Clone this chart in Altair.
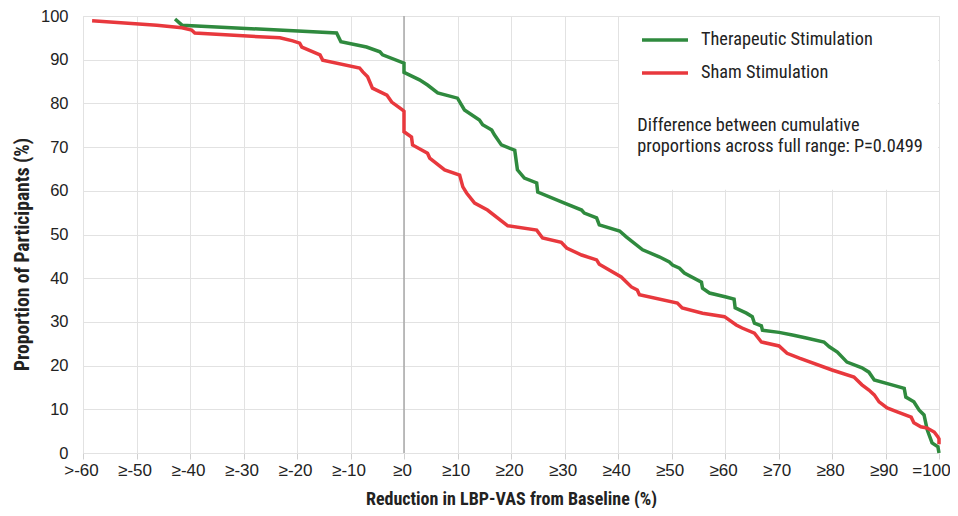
import altair as alt
import pandas as pd

# ---- data ----
therapeutic_x = [-42.8, -41.5, -12.6, -11.8, -7.0, -4.5, -4.0, 0.0, 0.0, 2.9, 4.4, 6.3, 10.0, 11.3, 14.1, 14.7,
                 16.4, 16.9, 18.2, 20.7, 21.2, 22.5, 24.8, 25.0, 30.0, 33.2, 33.7, 36.0, 36.5, 40.3, 41.6,
                 44.6, 47.7, 49.6, 50.2, 51.5, 52.4, 55.6, 55.8, 57.1, 60.2, 61.7, 61.9, 64.0, 65.1, 65.5,
                 66.8, 67.0, 70.1, 72.6, 75.2, 78.5, 79.5, 81.0, 82.8, 85.6, 86.9, 87.9, 91.2, 93.5, 93.8,
                 95.3, 96.3, 97.2, 97.8, 98.7, 99.8, 100.0]
therapeutic_y = [99.3, 97.9, 96.1, 94.1, 92.9, 91.8, 91.1, 89.2, 87.1, 85.4, 84.2, 82.4, 81.2, 78.5, 76.2, 75.1,
                 73.9, 72.8, 70.5, 69.3, 64.8, 62.9, 61.8, 59.7, 57.2, 55.6, 54.9, 53.8, 52.2, 50.8, 49.4,
                 46.5, 44.9, 43.7, 43.0, 42.3, 41.2, 39.1, 37.7, 36.6, 35.7, 35.2, 33.2, 32.0, 31.2, 29.7,
                 29.1, 28.1, 27.6, 27.0, 26.3, 25.4, 24.3, 23.1, 20.8, 19.5, 18.5, 16.7, 15.6, 14.8, 12.8,
                 11.7, 9.8, 8.7, 5.3, 2.3, 1.4, 0.0]

sham_x = [-58.3, -46.2, -41.5, -39.7, -39.1, -23.2, -20.8, -19.5, -19.1, -15.7, -15.2, -8.3, -7.7, -6.8,
          -5.9, -3.2, -2.3, -0.3, 0.0, 0.0, 1.4, 1.6, 4.4, 4.8, 7.6, 10.4, 11.0, 11.7, 13.2, 15.6, 19.4,
          24.8, 25.9, 29.4, 30.4, 33.2, 36.0, 36.5, 40.6, 42.5, 43.6, 44.0, 51.1, 52.0, 55.8, 59.9, 62.1,
          63.2, 65.5, 66.8, 70.1, 71.6, 73.9, 80.0, 84.1, 85.6, 86.9, 87.9, 88.8, 90.3, 92.2, 94.8, 95.3,
          96.6, 97.8, 99.1, 99.8, 100.0, 100.0]
sham_y = [98.9, 97.9, 97.3, 96.8, 96.1, 95.0, 94.3, 93.8, 92.9, 91.1, 89.9, 88.1, 87.2, 86.1,
          83.5, 81.9, 80.3, 78.5, 78.2, 73.5, 72.3, 70.5, 68.6, 67.5, 64.8, 63.6, 60.9, 59.5, 57.2, 55.6, 52.0,
          51.0, 49.2, 48.2, 46.9, 45.3, 44.2, 43.2, 40.3, 38.0, 37.3, 36.2, 34.3, 33.2, 32.0, 31.2, 29.3,
          28.6, 27.4, 25.4, 24.5, 22.8, 21.7, 19.0, 17.4, 15.6, 14.4, 13.3, 11.7, 10.3, 9.4, 8.2, 6.9,
          6.0, 5.7, 4.8, 3.7, 3.2, 2.0]

series_names = ["Therapeutic Stimulation", "Sham Stimulation"]
series_colors = ["#2f8a3e", "#e8383d"]

x_ticks = [-60, -50, -40, -30, -20, -10, 0, 10, 20, 30, 40, 50, 60, 70, 80, 90, 100]
x_tick_labels = [">-60", "≥-50", "≥-40", "≥-30", "≥-20", "≥-10", "≥0", "≥10", "≥20", "≥30",
                 "≥40", "≥50", "≥60", "≥70", "≥80", "≥90", "=100"]
y_ticks = [0, 10, 20, 30, 40, 50, 60, 70, 80, 90, 100]

annotation_lines = ["Difference between cumulative", "proportions across full range: P=0.0499"]

x_title = "Reduction in LBP-VAS from Baseline (%)"
y_title = "Proportion of Participants (%)"

# ---- build table ----
rows = []
for i, (x, y) in enumerate(zip(therapeutic_x, therapeutic_y)):
    rows.append({"x": x, "y": y, "series": series_names[0], "idx": i})
for i, (x, y) in enumerate(zip(sham_x, sham_y)):
    rows.append({"x": x, "y": y, "series": series_names[1], "idx": i})
df = pd.DataFrame(rows)

label_expr = " : ".join(
    f"datum.value == {v} ? '{l}'" for v, l in zip(x_ticks, x_tick_labels)
) + " : datum.label"

LABEL_FONT = "Liberation Sans, Arial, sans-serif"
NARROW_FONT = "Liberation Sans Narrow, Arial Narrow, Roboto Condensed, DejaVu Sans Condensed, sans-serif"
TEXT_COLOR = "#222222"
GRID = "#e2e2e2"

x_scale = alt.Scale(domain=[-60, 100], nice=False, zero=False)
y_scale = alt.Scale(domain=[0, 100], nice=False)

x_axis = alt.Axis(values=x_ticks, labelExpr=label_expr, title=x_title, grid=True, gridColor=GRID,
                  gridWidth=1, domainColor=GRID, tickColor="#d0d0d0", tickSize=6, labelPadding=3,
                  labelFont=LABEL_FONT, labelFontSize=17, labelColor=TEXT_COLOR, labelFlush=False,
                  labelOverlap=False,
                  labelOffset={"condition": {"test": "datum.value == 100", "value": -8}, "value": -2},
                  titleFont=NARROW_FONT, titleFontSize=18, titleFontWeight="bold",
                  titleColor=TEXT_COLOR, titleBaseline="bottom", titleY=55)
y_axis = alt.Axis(values=y_ticks, title=y_title, grid=True, gridColor=GRID, gridWidth=1, domain=False,
                  ticks=False, labelPadding=15, labelFont=LABEL_FONT, labelFontSize=16.5,
                  labelColor=TEXT_COLOR, titleFont=NARROW_FONT, titleFontSize=19.5,
                  titleFontWeight="bold", titleColor=TEXT_COLOR, titleAngle=270,
                  titleBaseline="middle", titleX=-61, titleY=238)

box = alt.Chart(pd.DataFrame({"a": [0]})).mark_rect(
    color="white", xOffset=1, x2Offset=-1, yOffset=-1, y2Offset=1
).encode(
    x=alt.datum(40, scale=x_scale, axis=x_axis),
    x2=alt.datum(100),
    y=alt.datum(60, scale=y_scale, axis=y_axis),
    y2=alt.datum(100),
)

zero_rule = alt.Chart(pd.DataFrame({"a": [0]})).mark_rule(color="#a8a8a8", strokeWidth=1.5).encode(
    x=alt.datum(0),
    y=alt.datum(0),
    y2=alt.datum(100),
)

lines = alt.Chart(df).mark_line(strokeWidth=3.5, interpolate="linear").encode(
    x=alt.X("x:Q", scale=x_scale, axis=x_axis),
    y=alt.Y("y:Q", scale=y_scale, axis=y_axis),
    color=alt.Color(
        "series:N",
        scale=alt.Scale(domain=series_names, range=series_colors),
        legend=alt.Legend(
            orient="none", legendX=557, legendY=14, title=None, symbolType="stroke",
            symbolSize=2116, symbolStrokeWidth=3.5, clipHeight=20, rowPadding=13,
            labelFont=NARROW_FONT, labelFontSize=18.3, labelColor=TEXT_COLOR, labelOffset=11,
            padding=0, labelLimit=400,
        ),
    ),
    order="idx:Q",
    detail="series:N",
)

note = alt.Chart(pd.DataFrame({"t": [annotation_lines]})).mark_text(
    align="left", baseline="top", font=NARROW_FONT, fontSize=18.3, lineHeight=21, color=TEXT_COLOR
).encode(
    x=alt.datum(43.6),
    y=alt.datum(76.8),
    text="t",
)

chart = alt.layer(box, zero_rule, lines, note).properties(
    width=856, height=437,
    padding={"left": 75, "top": 8, "right": 11, "bottom": 55},
    autosize=alt.AutoSizeParams(type="none"),
).configure_view(stroke=None).configure(background="white")

chart.save("out.html", embed_options={"renderer": "svg", "actions": False})
